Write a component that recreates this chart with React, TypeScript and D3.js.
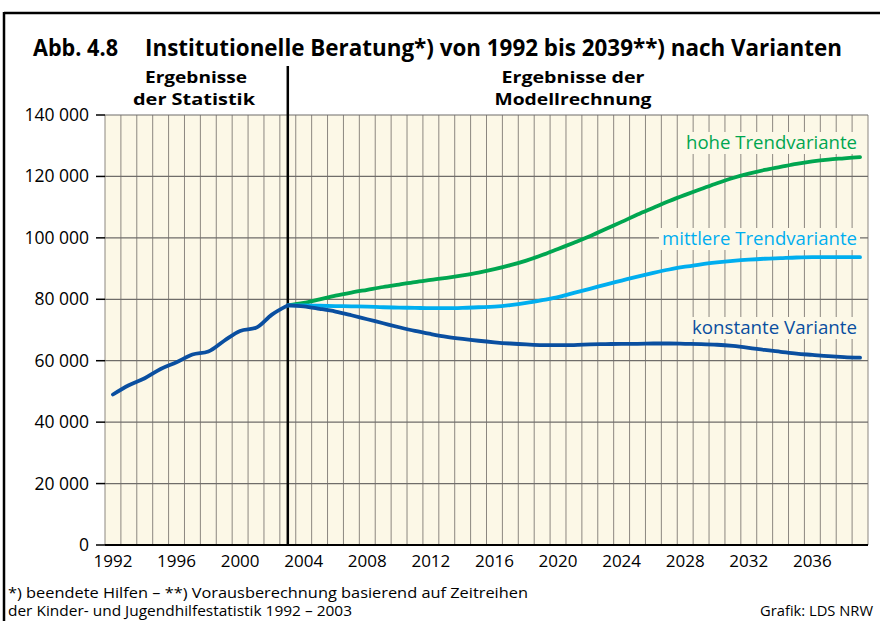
import React from 'react';
import * as d3 from 'd3';

const histYears = [1992, 1993, 1994, 1995, 1996, 1997, 1998, 1999, 2000, 2001, 2002, 2003];
const histValues = [49000, 52000, 54300, 57300, 59500, 62000, 63000, 66500, 69700, 70700, 75000, 78000];

const projYears = [2003, 2004, 2005, 2006, 2007, 2008, 2009, 2010, 2011, 2012, 2013, 2014, 2015, 2016, 2017, 2018, 2019, 2020, 2021, 2022, 2023, 2024, 2025, 2026, 2027, 2028, 2029, 2030, 2031, 2032, 2033, 2034, 2035, 2036, 2037, 2038, 2039];
const hoheValues = [78000, 78800, 80000, 81200, 82200, 83100, 84000, 84800, 85600, 86300, 87000, 87800, 88700, 89800, 91100, 92600, 94400, 96400, 98400, 100500, 102900, 105200, 107600, 109800, 112000, 114000, 115900, 117800, 119500, 120900, 122100, 123100, 124100, 124900, 125500, 125900, 126300];
const mittlereValues = [78000, 78000, 77900, 77800, 77700, 77600, 77400, 77300, 77200, 77100, 77100, 77200, 77400, 77600, 78100, 78800, 79700, 80700, 82100, 83400, 84800, 86100, 87400, 88600, 89700, 90600, 91400, 92000, 92500, 92900, 93200, 93400, 93600, 93700, 93700, 93700, 93700];
const konstanteValues = [78000, 77700, 76900, 76000, 74800, 73500, 72200, 70900, 69700, 68700, 67800, 67100, 66500, 66000, 65600, 65300, 65100, 65100, 65100, 65300, 65400, 65500, 65500, 65600, 65600, 65500, 65400, 65200, 64800, 64200, 63500, 62900, 62300, 61900, 61500, 61200, 61000];

const yTicks = [0, 20000, 40000, 60000, 80000, 100000, 120000, 140000];
const xTickYears = [1992, 1996, 2000, 2004, 2008, 2012, 2016, 2020, 2024, 2028, 2032, 2036];

const seriesLabels = ['hohe Trendvariante', 'mittlere Trendvariante', 'konstante Variante'];

const GREEN = '#00a650';
const LIGHT = '#00aeef';
const DARK = '#0a4fa0';
const BG = '#fcf8e7';
const FONT = '"Open Sans", "DejaVu Sans", sans-serif';

export default function App() {
  const W = 880, H = 621;
  const left = 105, right = 868, top = 115, bottom = 545;
  const x = d3.scaleLinear().domain([1991.5, 2039.5]).range([left, right]);
  const y = d3.scaleLinear().domain([0, 140000]).range([bottom, top]);

  const line = d3.line<[number, number]>()
    .x(d => x(d[0]))
    .y(d => y(d[1]))
    .curve(d3.curveMonotoneX);

  const hist = line(histYears.map((yr, i) => [yr, histValues[i]]));
  const hohe = line(projYears.map((yr, i) => [yr, hoheValues[i]]));
  const mittlere = line(projYears.map((yr, i) => [yr, mittlereValues[i]]));
  const konst = line(projYears.map((yr, i) => [yr, konstanteValues[i]]));

  const bounds = d3.range(1991.5, 2040, 1);

  const labelDefs = [
    { text: seriesLabels[0], color: GREEN, x1: 686, x2: 857, base: 149 },
    { text: seriesLabels[1], color: LIGHT, x1: 662, x2: 857, base: 245 },
    { text: seriesLabels[2], color: DARK, x1: 692, x2: 857, base: 334 },
  ];

  const headers = [
    { text: 'Ergebnisse', x: 196, yb: 83, w: 102 },
    { text: 'der Statistik', x: 194, yb: 105, w: 122 },
    { text: 'Ergebnisse der', x: 573, yb: 83, w: 143 },
    { text: 'Modellrechnung', x: 573, yb: 105, w: 157 },
  ];

  return (
    <svg width={W} height={H} style={{ position: 'absolute', left: 0, top: 0, background: '#fff' }}>
      <rect x={0} y={0} width={W} height={H} fill="#fff" />
      {/* frame */}
      <line x1={4} y1={13} x2={880} y2={13} stroke="#000" strokeWidth={2.5} />
      <line x1={4} y1={12} x2={4} y2={621} stroke="#000" strokeWidth={2.5} />

      {/* title */}
      <text x={33} y={56} fontFamily={FONT} fontWeight={700} fontSize={23} textLength={85} lengthAdjust="spacingAndGlyphs">Abb. 4.8</text>
      <text x={145} y={56} fontFamily={FONT} fontWeight={700} fontSize={23} textLength={697} lengthAdjust="spacingAndGlyphs">Institutionelle Beratung*) von 1992 bis 2039**) nach Varianten</text>

      {/* headers */}
      <g fontFamily={FONT} fontWeight={700} fontSize={16.5} textAnchor="middle">
        {headers.map((h, i) => (
          <text key={'hd' + i} x={h.x} y={h.yb} textLength={h.w} lengthAdjust="spacingAndGlyphs">{h.text}</text>
        ))}
      </g>

      {/* plot background */}
      <rect x={left} y={top} width={right - left} height={bottom - top} fill={BG} />

      {/* vertical grid */}
      {bounds.map((b, i) => (
        <line key={'v' + i} x1={x(b)} x2={x(b)} y1={top} y2={bottom} stroke="#8c8780" strokeWidth={1} />
      ))}
      {/* horizontal grid */}
      {yTicks.map((t, i) => (
        <line key={'h' + i} x1={left} x2={right} y1={y(t)} y2={y(t)} stroke="#6f6d6a" strokeWidth={1.2} />
      ))}

      {/* label backgrounds */}
      {labelDefs.map((l, i) => (
        <rect key={'lb' + i} x={l.x1 - 3} y={l.base - 17} width={l.x2 - l.x1 + 6} height={22} fill={BG} />
      ))}

      {/* y axis ticks & labels */}
      {yTicks.map((t, i) => (
        <g key={'yt' + i}>
          <line x1={96} x2={left} y1={y(t)} y2={y(t)} stroke="#000" strokeWidth={1.5} />
          <text x={89} y={y(t) + 6} textAnchor="end" fontFamily={FONT} fontSize={17.5} fill="#000">
            {d3.format(',')(t).replace(/,/g, ' ')}
          </text>
        </g>
      ))}

      {/* x axis */}
      <line x1={left} x2={right} y1={bottom} y2={bottom} stroke="#000" strokeWidth={1.8} />
      {xTickYears.map((yr, i) => (
        <text key={'xt' + i} x={x(yr)} y={567} textAnchor="middle" fontFamily={FONT} fontSize={17} fill="#000">{yr}</text>
      ))}

      {/* divider */}
      <line x1={x(2003)} x2={x(2003)} y1={66} y2={bottom} stroke="#000" strokeWidth={2.5} />

      {/* lines */}
      <path d={hohe || ''} fill="none" stroke={GREEN} strokeWidth={3.8} strokeLinecap="round" />
      <path d={mittlere || ''} fill="none" stroke={LIGHT} strokeWidth={3.8} strokeLinecap="round" />
      <path d={konst || ''} fill="none" stroke={DARK} strokeWidth={3.8} strokeLinecap="round" />
      <path d={hist || ''} fill="none" stroke={DARK} strokeWidth={3.8} strokeLinecap="round" strokeLinejoin="round" />

      {/* series labels */}
      {labelDefs.map((l, i) => (
        <text key={'lt' + i} x={l.x1} y={l.base} fontFamily={FONT} fontSize={17.5} fill={l.color} textLength={l.x2 - l.x1} lengthAdjust="spacingAndGlyphs">{l.text}</text>
      ))}

      {/* footnotes */}
      <g fontFamily={FONT} fontSize={14.5} fill="#000">
        <text x={8} y={598} textLength={520} lengthAdjust="spacingAndGlyphs">*) beendete Hilfen – **) Vorausberechnung basierend auf Zeitreihen</text>
        <text x={8} y={616} textLength={344} lengthAdjust="spacingAndGlyphs">der Kinder- und Jugendhilfestatistik 1992 – 2003</text>
        <text x={873} y={616} textAnchor="end" textLength={113} lengthAdjust="spacingAndGlyphs">Grafik: LDS NRW</text>
      </g>
    </svg>
  );
}
